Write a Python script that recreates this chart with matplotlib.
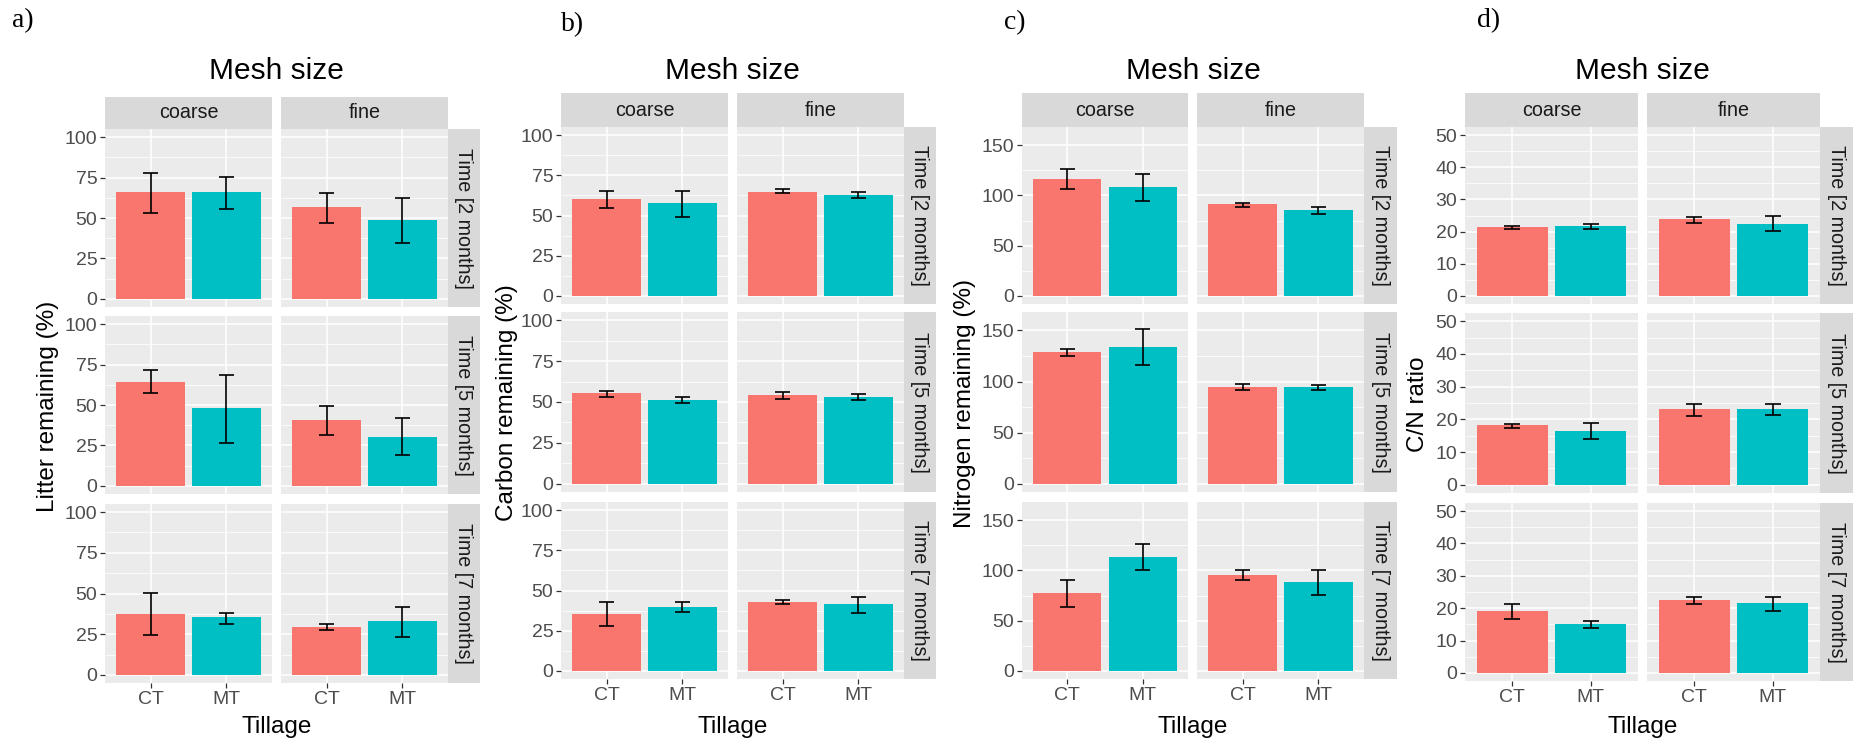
import matplotlib
matplotlib.use("Agg")
import matplotlib.pyplot as plt
from matplotlib.ticker import MultipleLocator

plt.rcParams['font.family'] = ['Liberation Sans', 'DejaVu Sans']

# ---------------- data ----------------
mesh = ["coarse", "fine"]
tillage = ["CT", "MT"]
times = ["Time [2 months]", "Time [5 months]", "Time [7 months]"]
letters = ["a)", "b)", "c)", "d)"]
ylabels = ["Litter remaining (%)", "Carbon remaining (%)",
           "Nitrogen remaining (%)", "C/N ratio"]

# each row = one time; order within row: coarse-CT, coarse-MT, fine-CT, fine-MT
litter_mean = [[65.8, 65.8, 56.7, 48.5],
               [64.4, 48.1, 40.7, 30.3],
               [37.7, 35.6, 29.4, 33.3]]
litter_lo = [[52.9, 55.6, 46.7, 34.6],
             [57.6, 26.5, 31.6, 19.1],
             [24.6, 31.5, 27.7, 23.2]]
litter_hi = [[77.7, 75.2, 65.6, 62.5],
             [71.5, 68.8, 49.5, 42.0],
             [50.5, 38.3, 31.5, 42.0]]

carbon_mean = [[60.4, 57.5, 64.8, 62.5],
               [55.5, 51.2, 54.1, 53.3],
               [35.7, 40.0, 42.9, 41.4]]
carbon_lo = [[54.8, 48.8, 64.0, 60.6],
             [53.1, 49.4, 51.6, 51.4],
             [27.8, 36.9, 41.9, 35.9]]
carbon_hi = [[65.4, 65.4, 66.3, 64.4],
             [56.7, 52.9, 55.9, 54.7],
             [42.9, 42.9, 44.3, 45.8]]

nitrogen_mean = [[116.5, 108.2, 91.6, 85.6],
                 [128.5, 134.0, 94.4, 94.4],
                 [77.6, 113.5, 95.4, 88.4]]
nitrogen_lo = [[106.5, 94.6, 88.6, 81.3],
               [124.5, 115.8, 91.4, 91.4],
               [63.7, 100.0, 90.4, 75.9]]
nitrogen_hi = [[126.1, 121.1, 92.6, 88.6],
               [131.5, 151.0, 97.7, 96.7],
               [90.4, 126.7, 100.0, 100.0]]

cn_mean = [[21.4, 21.8, 24.0, 22.5],
           [18.3, 16.4, 23.1, 23.1],
           [19.2, 15.0, 22.6, 21.5]]
cn_lo = [[20.8, 20.8, 22.8, 20.1],
         [17.3, 14.1, 21.1, 21.4],
         [16.8, 13.9, 21.3, 19.0]]
cn_hi = [[21.7, 22.4, 24.6, 25.0],
         [18.5, 18.9, 24.8, 24.8],
         [21.3, 16.0, 23.6, 23.5]]

datasets = [(litter_mean, litter_lo, litter_hi),
            (carbon_mean, carbon_lo, carbon_hi),
            (nitrogen_mean, nitrogen_lo, nitrogen_hi),
            (cn_mean, cn_lo, cn_hi)]

y_limits = [100, 100, 160, 50]
y_major = [25, 25, 50, 10]

# ---------------- layout (pixels) ----------------
W, H = 1854, 742
fig = plt.figure(figsize=(W / 100, H / 100), dpi=100)
fig.patch.set_facecolor("white")

groups = [
    dict(cols=[(105, 272), (281, 448)], rstrip=(448, 480), strip=(97, 129),
         rows=[(129, 307), (316, 494), (504, 683)], letter=(12, 21), ylab_x=48),
    dict(cols=[(561, 728), (737, 904)], rstrip=(904, 936), strip=(93, 127),
         rows=[(127, 304), (312, 492), (502, 679)], letter=(561, 25), ylab_x=507),
    dict(cols=[(1022, 1188), (1197, 1364)], rstrip=(1364, 1397), strip=(93, 127),
         rows=[(127, 304), (312, 492), (502, 679)], letter=(1004, 23), ylab_x=965),
    dict(cols=[(1465, 1638), (1647, 1820)], rstrip=(1820, 1853), strip=(93, 127),
         rows=[(127, 304), (313, 493), (503, 681)], letter=(1477, 21), ylab_x=1418),
]

fill_cols = ["#F8766D", "#00BFC4"]
panel_bg = "#EBEBEB"
strip_bg = "#D9D9D9"
tick_col = "#4D4D4D"


def add_ax(x0, x1, y0, y1):
    return fig.add_axes([x0 / W, 1 - y1 / H, (x1 - x0) / W, (y1 - y0) / H])


def strip_ax(x0, x1, y0, y1, text, rot):
    a = add_ax(x0, x1, y0, y1)
    a.set_facecolor(strip_bg)
    a.set_xticks([])
    a.set_yticks([])
    for s in a.spines.values():
        s.set_visible(False)
    a.text(0.5, 0.5, text, transform=a.transAxes, ha="center", va="center",
           rotation=rot, fontsize=14.2, color="#1A1A1A")


for g, (mean, lo, hi), L, maj, ylab, let in zip(groups, datasets, y_limits,
                                                y_major, ylabels, letters):
    for j, (x0, x1) in enumerate(g["cols"]):
        strip_ax(x0, x1, g["strip"][0], g["strip"][1], mesh[j], 0)
    for i, (y0, y1) in enumerate(g["rows"]):
        strip_ax(g["rstrip"][0], g["rstrip"][1], y0, y1, times[i], 270)
        for j, (x0, x1) in enumerate(g["cols"]):
            ax = add_ax(x0, x1, y0, y1)
            ax.set_facecolor(panel_bg)
            for s in ax.spines.values():
                s.set_visible(False)
            ax.set_xlim(0.4, 2.6)
            ax.set_ylim(-0.05 * L, 1.05 * L)
            ax.yaxis.set_major_locator(MultipleLocator(maj))
            ax.yaxis.set_minor_locator(MultipleLocator(maj / 2))
            ax.set_xticks([1, 2])
            ax.grid(which="major", color="white", lw=1.1)
            ax.grid(which="minor", axis="y", color="white", lw=0.55)
            ax.set_axisbelow(True)
            vals = mean[i][2 * j:2 * j + 2]
            lows = lo[i][2 * j:2 * j + 2]
            highs = hi[i][2 * j:2 * j + 2]
            ax.bar([1, 2], vals, width=0.9, color=fill_cols, zorder=2)
            ax.vlines([1, 2], lows, highs, color="black", lw=1.2, zorder=3)
            for xc, l_, h_ in zip([1, 2], lows, highs):
                ax.hlines([l_, h_], xc - 0.1, xc + 0.1, color="black", lw=1.2, zorder=3)
            ax.tick_params(axis="both", which="major", length=3.5, width=0.9,
                           color="#333333", labelcolor=tick_col, labelsize=14, pad=2)
            ax.tick_params(axis="both", which="minor", length=0)
            if i == 2:
                ax.set_xticklabels(tillage)
            else:
                ax.set_xticklabels([])
                ax.tick_params(axis="x", which="major", length=0)
            if j != 0:
                ax.set_yticklabels([])
                ax.tick_params(axis="y", which="major", length=0)
    cx = (g["cols"][0][0] + g["cols"][1][1]) / 2
    fig.text(cx / W, 1 - 71 / H, "Mesh size", ha="center", va="center", fontsize=21.5)
    fig.text(cx / W, 1 - 727 / H, "Tillage", ha="center", va="center", fontsize=17.5)
    cy = (g["rows"][0][0] + g["rows"][2][1]) / 2
    fig.text(g["ylab_x"] / W, 1 - cy / H, ylab, ha="center", va="center",
             rotation=90, fontsize=17.5)
    fig.text(g["letter"][0] / W, 1 - g["letter"][1] / H, let, ha="left", va="center",
             fontsize=20, family=["Liberation Serif", "DejaVu Serif"])

fig.savefig("out.png", dpi=100, facecolor="white")
